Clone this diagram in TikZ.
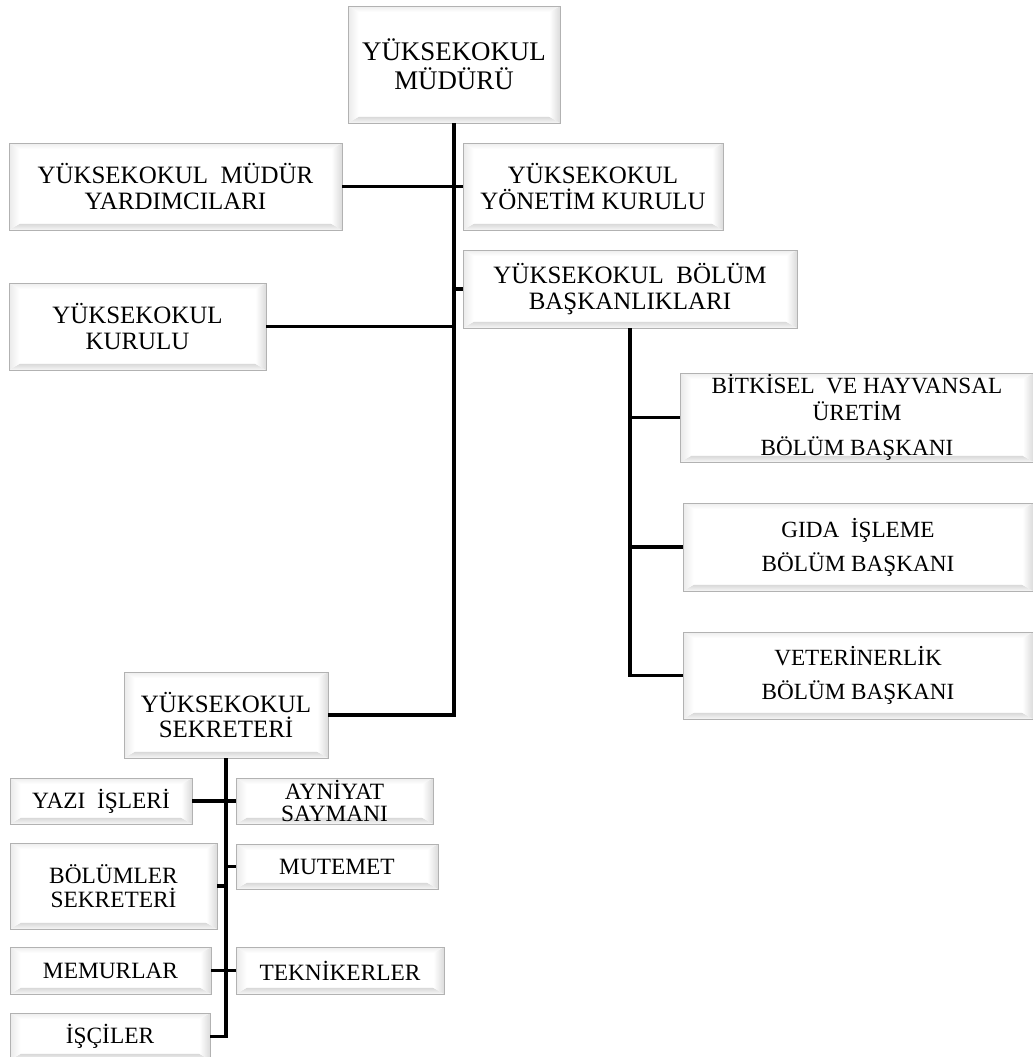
\documentclass[tikz,border=0pt]{standalone}
\usepackage{fontspec}
\setmainfont{Liberation Serif}
\usepackage{tikz}
\usetikzlibrary{calc}
\def\kabartma{%
	\coordinate (sw) at (path picture bounding box.south west);
	\coordinate (ne) at (path picture bounding box.north east);
	\fill[white] (sw) rectangle (ne);
	\shade[top color=gray!30, bottom color=gray!6] (sw) -- (sw-|ne) -- ([shift={(-6pt,3.5pt)}]sw-|ne) -- ([shift={(6pt,3.5pt)}]sw) -- cycle;
	\shade[left color=white, right color=gray!28] (sw-|ne) -- (ne) -- ([shift={(-6pt,-3.5pt)}]ne) -- ([shift={(-6pt,3.5pt)}]sw-|ne) -- cycle;
	\shade[left color=gray!16, right color=white] (sw) -- (sw|-ne) -- ([shift={(6pt,-3.5pt)}]sw|-ne) -- ([shift={(6pt,3.5pt)}]sw) -- cycle;
	\shade[top color=gray!14, bottom color=white] (sw|-ne) -- (ne) -- ([shift={(-6pt,-3.5pt)}]ne) -- ([shift={(6pt,-3.5pt)}]sw|-ne) -- cycle;
}
\tikzset{
	birim/.style={draw=gray!60, inner sep=0pt, align=center, text=black, path picture={\kabartma}},
	buyuk/.style={birim, font=\fontsize{14.2}{14.6}\selectfont},
	kucuk/.style={birim, font=\fontsize{13.3}{13.6}\selectfont},
	bolum/.style={birim, font=\fontsize{13.2}{15.3}\selectfont},
	hat/.style={line width=2pt}
}

\begin{document}
\begin{tikzpicture}[x=0.02cm, y=-0.02cm]
		%%%%% START %%%%%
		\useasboundingbox (0, 0) rectangle (1032, 1057);
		
		\node[birim, font=\fontsize{15.3}{16.4}\selectfont, minimum width=4.24cm, minimum height=2.34cm] (mudur) at (454, 64.5) {YÜKSEKOKUL\\MÜDÜRÜ};
		
		\node[buyuk, minimum width=6.66cm, minimum height=1.74cm] (yard) at (175.5, 186.5) {YÜKSEKOKUL\ \ MÜDÜR\\YARDIMCILARI};
		\node[buyuk, minimum width=5.2cm, minimum height=1.74cm] (yonetim) at (593, 186.5) {YÜKSEKOKUL\\YÖNETİM KURULU};
		\node[buyuk, minimum width=6.68cm, minimum height=1.56cm] (bolbas) at (630, 289) {YÜKSEKOKUL\ \ BÖLÜM\\BAŞKANLIKLARI};
		\node[buyuk, minimum width=5.14cm, minimum height=1.74cm] (kurul) at (137.5, 326.5) {YÜKSEKOKUL\\KURULU};
		
		\node[bolum, minimum width=7.06cm, minimum height=1.78cm] (bitki) at (857, 417.5) {BİTKİSEL\ \ VE HAYVANSAL\\ÜRETİM\\[5pt]BÖLÜM BAŞKANI};
		\node[bolum, minimum width=7cm, minimum height=1.76cm] (gida) at (858, 547) {GIDA\ \ İŞLEME\\[4pt]BÖLÜM BAŞKANI};
		\node[bolum, minimum width=7cm, minimum height=1.74cm] (vet) at (858, 675.5) {VETERİNERLİK\\[4pt]BÖLÜM BAŞKANI};
		
		\node[buyuk, minimum width=4.08cm, minimum height=1.72cm] (sekr) at (226, 715) {YÜKSEKOKUL\\SEKRETERİ};
		
		\node[kucuk, minimum width=3.64cm, minimum height=0.92cm] (yazi) at (101, 801) {YAZI\ \ İŞLERİ};
		\node[kucuk, font=\fontsize{13.3}{13}\selectfont, minimum width=3.94cm, minimum height=0.92cm] (ayni) at (334.5, 801) {AYNİYAT\\SAYMANI};
		\node[kucuk, minimum width=4.14cm, minimum height=1.72cm] (bolsek) at (113.5, 886) {BÖLÜMLER\\SEKRETERİ};
		\node[kucuk, minimum width=4.04cm, minimum height=0.9cm] (mute) at (337, 866.5) {MUTEMET};
		\node[kucuk, minimum width=4.02cm, minimum height=0.94cm] (memur) at (110.5, 970.5) {MEMURLAR};
		\node[kucuk, minimum width=4.16cm, minimum height=0.94cm] (tekn) at (340, 970.5) {TEKNİKERLER};
		\node[kucuk, minimum width=4cm, minimum height=0.94cm] (isci) at (110, 1036.5) {İŞÇİLER};
		
		% ana hat
		\draw[hat] (mudur.south) |- (sekr.east);
		\draw[hat] (yard.east) -- (yonetim.west);
		\draw[hat] (bolbas.west) -- (bolbas.west -| mudur.south);
		\draw[hat] (kurul.east) -- (kurul.east -| mudur.south);
		
		% bolumler
		\draw[hat] (bolbas.south) |- (vet.west);
		\draw[hat] (bitki.west -| bolbas.south) -- (bitki.west);
		\draw[hat] (gida.west -| bolbas.south) -- (gida.west);
		
		% sekreterlik
		\draw[hat] (sekr.south) |- (isci.east);
		\draw[hat] (yazi.east) -- (ayni.west);
		\draw[hat] (bolsek.east) -- (bolsek.east -| sekr.south);
		\draw[hat] (mute.west -| sekr.south) -- (mute.west);
		\draw[hat] (memur.east) -- (tekn.west);
		%%%%% END %%%%%
\end{tikzpicture}
\end{document}
